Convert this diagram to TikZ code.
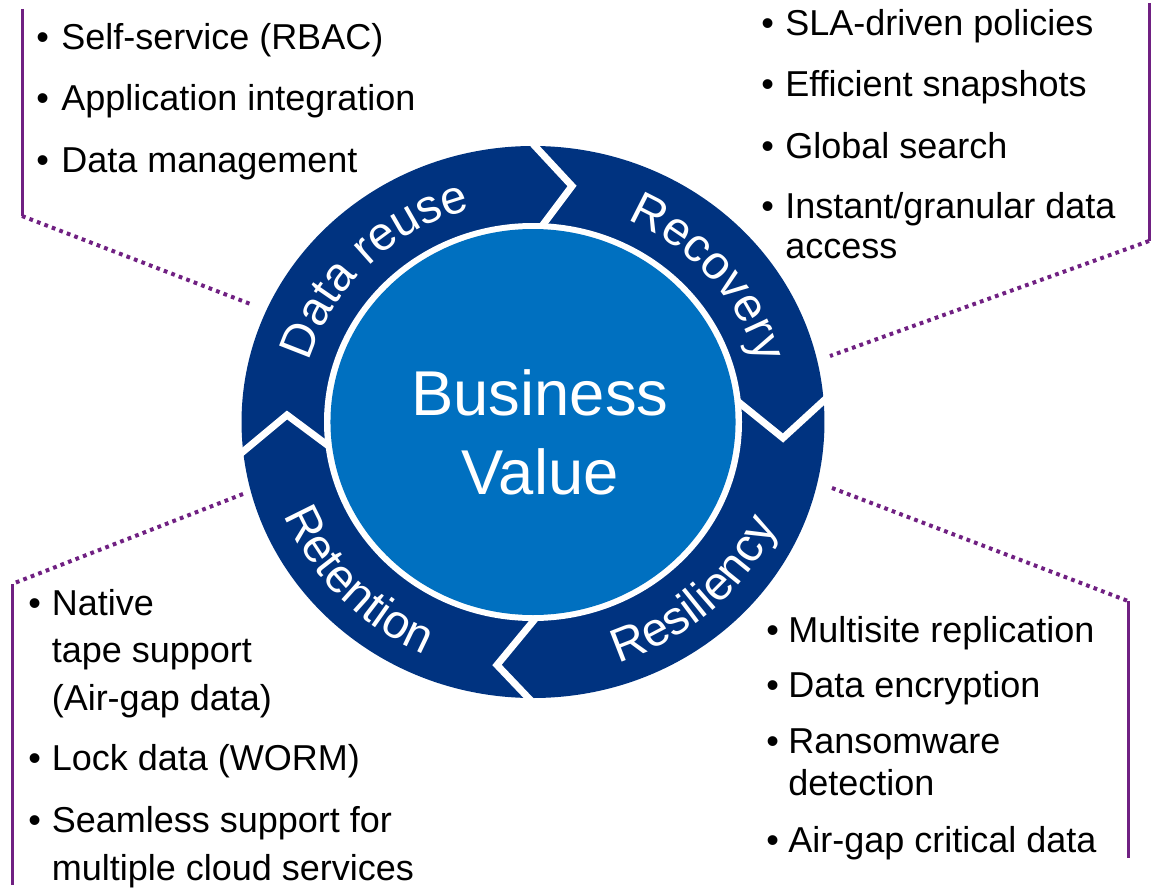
\documentclass[tikz,border=0pt]{standalone}
\usepackage{fontspec}
\setmainfont{Liberation Sans}
\usetikzlibrary{decorations.text,calc}
\definecolor{ringblue}{RGB}{0,51,128}
\definecolor{coreblue}{RGB}{0,112,192}
\definecolor{linepurple}{RGB}{112,32,130}
\newcommand\listfont{\fontsize{27}{32}\selectfont}
\newcommand\ringfont{\fontsize{35.5}{36}\selectfont}
\newcommand\corefont{\fontsize{47.5}{59}\selectfont}
\begin{document}
\begin{tikzpicture}[x=0.75pt,y=0.75pt,
  bul/.style={anchor=base west, inner sep=0pt, font=\listfont},
  purpline/.style={draw=linepurple, line width=2.25pt},
  purpdots/.style={draw=linepurple, line width=3pt, dash pattern=on 2.8pt off 3.2pt},
  gap/.style={draw=white, line width=5.25pt, line join=miter},
  ringtext/.style={decorate, decoration={text along path, text color=white, text align=center, text={|\ringfont|#1}}},
  coretext/.style={anchor=base, inner sep=0pt, font=\corefont, text=white}
]
\useasboundingbox (0,0) rectangle (1152,-888);
\coordinate (C) at (533,-422);
% ring
\fill[ringblue] (C) ellipse [x radius=218.6pt, y radius=207pt];
\draw[gap] (533,-144) -- (572,-186) -- (536,-234);
\draw[gap] (736,-400) -- (783,-438) -- (831,-394);
\draw[gap] (535,-619) -- (497,-665) -- (537,-707);
\draw[gap] (239,-455) -- (287,-415) -- (334,-450);
\fill[white] (C) ellipse [x radius=156.75pt, y radius=149.25pt];
\fill[coreblue] (C) ellipse [x radius=151.9pt, y radius=144.75pt];
% ring labels
\path[ringtext={Data reuse}] ($(C)+(191:174.5pt and 165.5pt)$) arc[start angle=191, end angle=80, x radius=174.5pt, y radius=165.5pt];
\path[ringtext={Recovery}] ($(C)+(95:174.5pt and 165.5pt)$) arc[start angle=95, end angle=-15, x radius=174.5pt, y radius=165.5pt];
\path[ringtext={Retention}] ($(C)+(168:200.5pt and 190.5pt)$) arc[start angle=168, end angle=278, x radius=200.5pt, y radius=190.5pt];
\path[ringtext={Resiliency}] ($(C)+(258:200.5pt and 190.5pt)$) arc[start angle=258, end angle=368, x radius=200.5pt, y radius=190.5pt];
% centre
\node[coretext] (biz) at (540,-415) {Business};
\node[coretext] (val) at (540,-494) {Value};
% purple leader lines
\coordinate (tl1) at (22,-9);
\coordinate (tl2) at (22,-216);
\coordinate (tl3) at (253,-305);
\draw[purpline] (tl1) -- (tl2);
\draw[purpdots] (tl2) -- (tl3);
\coordinate (tr1) at (1149,-3);
\coordinate (tr2) at (1149,-241);
\coordinate (tr3) at (830,-356);
\draw[purpline] (tr1) -- (tr2);
\draw[purpdots] (tr2) -- (tr3);
\coordinate (bl1) at (243,-494);
\coordinate (bl2) at (12,-584);
\coordinate (bl3) at (12,-885);
\draw[purpdots] (bl1) -- (bl2);
\draw[purpline] (bl2) -- (bl3);
\coordinate (br1) at (832,-488);
\coordinate (br2) at (1128,-601);
\coordinate (br3) at (1128,-858);
\draw[purpdots] (br1) -- (br2);
\draw[purpline] (br2) -- (br3);
% top-left list
\node[bul] (tlb1) at (36,-50) {•};
\node[bul] (tlt1) at (61,-50) {Self-service (RBAC)};
\node[bul] (tlb2) at (36,-111) {•};
\node[bul] (tlt2) at (61,-111) {Application integration};
\node[bul] (tlb3) at (36,-172.7) {•};
\node[bul] (tlt3) at (61,-172.7) {Data management};
% top-right list
\node[bul] (trb1) at (761,-35.7) {•};
\node[bul] (trt1) at (785,-35.7) {SLA-driven policies};
\node[bul] (trb2) at (761,-96.7) {•};
\node[bul] (trt2) at (785,-96.7) {Efficient snapshots};
\node[bul] (trb3) at (761,-158.3) {•};
\node[bul] (trt3) at (785,-158.3) {Global search};
\node[bul] (trb4) at (761,-218.3) {•};
\node[bul] (trt4) at (785,-218.3) {Instant/granular data};
\node[bul] (trt4b) at (785,-258.3) {access};
% bottom-left list
\node[bul] (blb1) at (28,-615) {•};
\node[bul] (blt1) at (51.5,-615) {Native};
\node[bul] (blt1b) at (51.5,-662.7) {tape support};
\node[bul] (blt1c) at (51.5,-710.7) {(Air-gap data)};
\node[bul] (blb2) at (28,-770.7) {•};
\node[bul] (blt2) at (51.5,-770.7) {Lock data (WORM)};
\node[bul] (blb3) at (28,-832) {•};
\node[bul] (blt3) at (51.5,-832) {Seamless support for};
\node[bul] (blt3b) at (51.5,-880) {multiple cloud services};
% bottom-right list
\node[bul] (brb1) at (766,-642.3) {•};
\node[bul] (brt1) at (788,-642.3) {Multisite replication};
\node[bul] (brb2) at (766,-697) {•};
\node[bul] (brt2) at (788,-697) {Data encryption};
\node[bul] (brb3) at (766,-753) {•};
\node[bul] (brt3) at (788,-753) {Ransomware};
\node[bul] (brt3b) at (788,-795) {detection};
\node[bul] (brb4) at (766,-852) {•};
\node[bul] (brt4) at (788,-852) {Air-gap critical data};
\end{tikzpicture}
\end{document}
